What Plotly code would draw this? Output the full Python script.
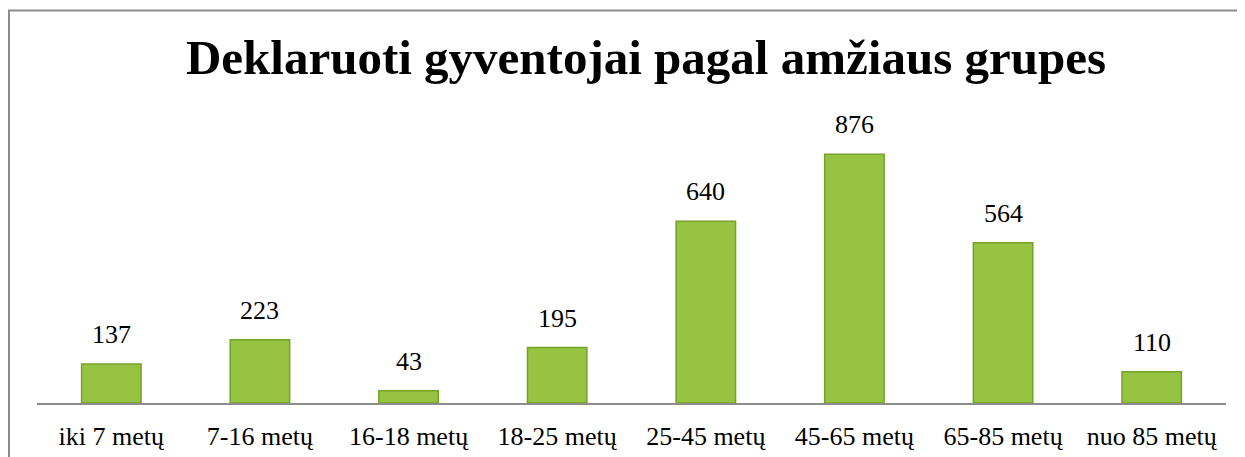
import plotly.graph_objects as go

# amžiaus grupės ir deklaruotų gyventojų skaičius
groups = ['iki 7 metų', '7-16 metų', '16-18 metų', '18-25 metų',
          '25-45 metų', '45-65 metų', '65-85 metų', 'nuo 85 metų']
residents = [137, 223, 43, 195, 640, 876, 564, 110]

SERIF = 'Liberation Serif, Times New Roman, serif'

W, H = 1245, 457
OFF = 8  # puslapio paraštė
# norimos ašies ribos lange: x 37..1226, y 119..403
ml, mt = 37 - OFF, 119 - OFF
mr = W - (1226 - OFF)
mb = H - (403 - OFF)
pw, ph = W - ml - mr, H - mt - mb

def px_x(p):
    return (p - OFF - ml) / pw

def px_y(p):
    return (H - mb - (p - OFF)) / ph

fig = go.Figure()
fig.add_trace(go.Bar(
    x=groups, y=residents,
    marker=dict(color='#96c341', line=dict(color='#76a22a', width=1.5)),
    hoverinfo='x+y',
))

# skaičiai virš stulpelių
for g, v in zip(groups, residents):
    fig.add_annotation(x=g, y=v, text=str(v), showarrow=False,
                       yanchor='bottom', yshift=13,
                       font=dict(family=SERIF, size=26, color='#000'))

# rėmelis
fig.add_shape(type='rect', xref='paper', yref='paper',
              x0=px_x(9), x1=px_x(1262), y0=px_y(10.5), y1=px_y(480),
              line=dict(color='#8c8c8c', width=2), layer='below')

fig.update_layout(
    width=W, height=H,
    margin=dict(l=ml, r=mr, t=mt, b=mb),
    paper_bgcolor='white', plot_bgcolor='white',
    bargap=0.6,
    showlegend=False,
    title=dict(text='<b>Deklaruoti gyventojai pagal amžiaus grupes</b>',
               x=px_x(646), xref='paper', xanchor='center',
               y=1 - (57 - OFF) / H, yanchor='middle',
               font=dict(family=SERIF, size=49, color='#000')),
    font=dict(family=SERIF, size=26, color='#000'),
)
fig.update_xaxes(showline=True, linecolor='#8c8c8c', linewidth=1.5,
                 ticks='', ticklabelstandoff=9,
                 tickfont=dict(family=SERIF, size=26, color='#000'))
fig.update_yaxes(range=[0, 1000], visible=False, showgrid=False, zeroline=False)

fig.write_html('out.html')
